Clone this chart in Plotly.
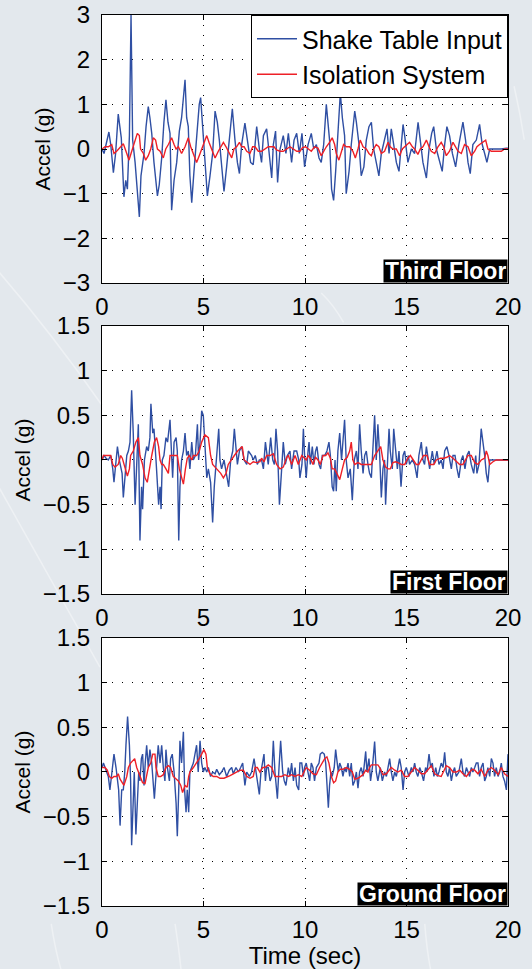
import plotly.graph_objects as go

# ---------------- data: (time s, accel g) vertices ----------------
third_input = [
    (0.00, 0.0), (0.10, -0.1), (0.34, 0.38), (0.43, 0.1), (0.56, -0.53), (0.67, -0.1), (0.80, 0.78),
    (0.89, 0.5), (0.95, 0.25), (1.08, -1.07), (1.17, -0.7), (1.25, -0.9), (1.35, 0.3), (1.43, 3.0),
    (1.51, 0.2), (1.63, -0.3), (1.71, -0.7), (1.84, -1.52), (1.92, -0.6), (1.99, -0.4), (2.07, -0.1),
    (2.17, 0.5), (2.28, 0.95), (2.36, 0.7), (2.45, 0.35), (2.56, -0.3), (2.73, -1.05), (2.82, -0.8),
    (2.94, -0.2), (3.05, 0.6), (3.15, 1.1), (3.25, 0.6), (3.35, 0.35), (3.43, -1.37), (3.55, -0.7),
    (3.68, -0.3), (3.81, 0.4), (3.92, 0.7), (4.09, 1.55), (4.17, 0.7), (4.25, 0.5), (4.33, -0.6),
    (4.42, -1.2), (4.53, -0.5), (4.66, 0.3), (4.79, 1.0), (4.86, 1.15), (4.96, 0.4), (5.07, -0.4),
    (5.19, -1.05), (5.32, -0.6), (5.45, -0.1), (5.57, 0.85), (5.68, 0.6), (5.78, 0.2), (5.89, -0.4),
    (6.01, -0.95), (6.14, -0.4), (6.27, 0.2), (6.42, 0.9), (6.55, 0.2), (6.67, -0.3), (6.77, -0.55),
    (6.88, 0.1), (7.04, 0.58), (7.21, 0.1), (7.32, -0.3), (7.45, -0.35), (7.62, 0.5), (7.75, 0.0),
    (7.86, -0.3), (7.95, 0.3), (8.11, 0.45), (8.19, 0.1), (8.36, -0.65), (8.44, 0.1), (8.55, 0.4),
    (8.65, -0.75), (8.77, 0.0), (8.93, 0.3), (9.06, -0.1), (9.18, 0.35), (9.34, -0.3), (9.46, 0.2),
    (9.59, 0.35), (9.72, -0.1), (9.85, 0.35), (9.98, -0.4), (10.15, 0.1), (10.31, 0.35), (10.43, 0.0),
    (10.56, 0.1), (10.69, -0.2), (10.80, -0.3), (10.92, 0.1), (11.05, 1.0), (11.15, 0.5), (11.21, 0.2),
    (11.31, -0.9), (11.41, -1.15), (11.51, -0.5), (11.62, 0.3), (11.74, 1.25), (11.84, 0.7), (11.95, 0.3),
    (12.03, -1.0), (12.17, -0.5), (12.28, 0.1), (12.45, 0.85), (12.53, 0.6), (12.66, 0.1), (12.77, -0.6),
    (12.90, -0.4), (13.02, 0.2), (13.15, 0.5), (13.27, 0.6), (13.38, 0.0), (13.51, -0.3), (13.64, -0.6),
    (13.76, -0.1), (13.92, 0.2), (14.04, 0.45), (14.14, -0.1), (14.25, 0.45), (14.37, 0.1), (14.50, -0.3),
    (14.63, -0.5), (14.83, 0.55), (14.91, 0.3), (15.07, -0.3), (15.24, 0.0), (15.40, -0.1), (15.57, 0.6),
    (15.68, 0.2), (15.81, -0.3), (15.98, -0.65), (16.11, 0.0), (16.24, 0.35), (16.34, 0.5), (16.47, 0.0),
    (16.60, -0.2), (16.76, -0.5), (16.88, 0.1), (16.99, 0.5), (17.12, 0.3), (17.26, -0.1), (17.42, -0.4),
    (17.58, 0.1), (17.78, 0.6), (17.91, 0.2), (18.03, -0.3), (18.14, -0.55), (18.27, 0.1), (18.44, 0.2),
    (18.60, 0.55), (18.73, 0.1), (18.85, -0.1), (18.96, -0.3), (19.10, 0.0), (19.34, 0.0), (19.67, 0.0),
    (19.92, 0.02), (20.0, 0.02),
]
third_iso = [
    (0.00, 0.0), (0.15, 0.05), (0.31, 0.05), (0.48, 0.1), (0.59, -0.1), (0.72, -0.05), (0.92, 0.05),
    (1.05, 0.12), (1.22, -0.1), (1.33, -0.25), (1.43, -0.1), (1.54, 0.05), (1.66, 0.2), (1.74, 0.35),
    (1.84, 0.3), (1.90, 0.0), (2.04, -0.1), (2.15, -0.25), (2.28, -0.15), (2.40, 0.0), (2.53, 0.25),
    (2.64, 0.2), (2.73, 0.0), (2.86, -0.05), (3.02, -0.2), (3.14, 0.0), (3.27, 0.1), (3.43, 0.25),
    (3.55, 0.1), (3.65, 0.0), (3.76, 0.05), (3.92, -0.1), (4.09, 0.05), (4.25, 0.25), (4.37, 0.05),
    (4.50, -0.1), (4.66, -0.3), (4.79, -0.15), (4.91, 0.0), (5.04, 0.15), (5.16, 0.3), (5.27, 0.15),
    (5.40, 0.0), (5.57, -0.2), (5.73, -0.05), (5.85, 0.05), (5.98, 0.15), (6.11, 0.05), (6.22, -0.05),
    (6.39, -0.2), (6.50, 0.0), (6.63, 0.05), (6.77, 0.15), (6.88, 0.05), (7.00, 0.05), (7.13, -0.05),
    (7.29, -0.1), (7.42, 0.05), (7.54, 0.05), (7.70, -0.05), (7.86, -0.05), (8.03, 0.0), (8.19, 0.05),
    (8.36, 0.05), (8.47, 0.05), (8.60, -0.02), (8.77, -0.05), (8.93, -0.05), (9.10, 0.0), (9.26, 0.05),
    (9.43, 0.0), (9.59, -0.05), (9.75, -0.05), (9.88, 0.03), (10.03, 0.05), (10.20, 0.0), (10.31, -0.05),
    (10.47, 0.05), (10.64, 0.02), (10.80, -0.15), (10.92, -0.05), (11.05, 0.05), (11.21, 0.15),
    (11.34, 0.25), (11.46, 0.1), (11.54, -0.1), (11.67, -0.25), (11.79, -0.05), (11.90, 0.1),
    (12.03, 0.05), (12.20, 0.05), (12.36, -0.05), (12.48, -0.2), (12.61, 0.0), (12.72, 0.2),
    (12.86, 0.05), (13.02, 0.0), (13.15, -0.1), (13.27, -0.15), (13.38, 0.0), (13.51, 0.1),
    (13.64, 0.05), (13.76, -0.1), (13.92, -0.05), (14.09, 0.15), (14.20, 0.05), (14.33, 0.0),
    (14.50, 0.0), (14.66, -0.15), (14.79, 0.0), (14.91, 0.05), (15.02, 0.1), (15.15, 0.15),
    (15.29, 0.05), (15.40, 0.0), (15.56, -0.12), (15.68, 0.0), (15.81, 0.05), (15.98, 0.2),
    (16.11, 0.05), (16.22, -0.05), (16.39, -0.1), (16.55, 0.05), (16.71, 0.15), (16.83, 0.05),
    (16.96, -0.15), (17.12, -0.05), (17.29, 0.15), (17.42, 0.05), (17.54, -0.05), (17.70, -0.1),
    (17.86, 0.1), (18.03, 0.05), (18.19, -0.15), (18.36, -0.05), (18.47, 0.05), (18.60, 0.1),
    (18.77, 0.15), (18.90, 0.2), (19.01, 0.0), (19.18, -0.05), (19.42, -0.05), (19.67, -0.05),
    (19.83, 0.0), (20.0, 0.0),
]
first_input = [
    (0.00, 0.0), (0.10, 0.05), (0.20, 0.02), (0.31, 0.0), (0.43, 0.05), (0.53, -0.1), (0.59, -0.25),
    (0.69, 0.05), (0.76, 0.15), (0.85, 0.0), (0.92, -0.1), (0.99, -0.15), (1.05, -0.42), (1.13, -0.2),
    (1.22, 0.05), (1.30, 0.1), (1.38, 0.2), (1.46, 0.78), (1.54, 0.3), (1.63, -0.5), (1.71, 0.0),
    (1.79, 0.4), (1.87, -0.9), (1.95, -0.3), (2.00, -0.55), (2.09, 0.0), (2.20, 0.15), (2.28, 0.1),
    (2.36, 0.25), (2.41, 0.63), (2.50, 0.3), (2.56, 0.35), (2.66, 0.0), (2.73, -0.25), (2.79, -0.5),
    (2.86, -0.3), (2.91, -0.55), (2.97, 0.0), (3.05, 0.05), (3.15, 0.25), (3.23, 0.2), (3.35, 0.45),
    (3.42, 0.15), (3.48, -0.2), (3.55, 0.2), (3.65, 0.25), (3.71, 0.1), (3.78, -0.9), (3.84, -0.3),
    (3.92, 0.0), (4.01, 0.1), (4.09, 0.3), (4.17, 0.05), (4.25, 0.1), (4.33, -0.1), (4.42, 0.2),
    (4.50, 0.0), (4.60, 0.05), (4.70, 0.4), (4.76, 0.0), (4.83, 0.2), (4.91, 0.55), (4.99, 0.5),
    (5.09, 0.0), (5.16, -0.2), (5.24, -0.1), (5.35, -0.25), (5.45, -0.7), (5.53, -0.3), (5.65, 0.05),
    (5.75, 0.35), (5.81, 0.0), (5.89, -0.1), (6.01, 0.0), (6.14, -0.15), (6.24, -0.3), (6.34, 0.0),
    (6.44, 0.1), (6.52, 0.35), (6.60, 0.1), (6.67, -0.05), (6.77, 0.1), (6.88, 0.15), (7.00, 0.0),
    (7.13, -0.05), (7.21, 0.1), (7.37, 0.05), (7.45, 0.0), (7.55, 0.05), (7.65, -0.05), (7.75, 0.0),
    (7.86, 0.0), (7.95, -0.1), (8.05, 0.2), (8.11, 0.1), (8.19, -0.05), (8.31, 0.25), (8.41, 0.0),
    (8.49, -0.05), (8.57, 0.35), (8.65, 0.1), (8.74, -0.5), (8.85, -0.1), (8.93, 0.2), (9.03, -0.05),
    (9.13, 0.05), (9.26, 0.1), (9.34, -0.1), (9.46, 0.1), (9.59, 0.1), (9.69, 0.0), (9.75, -0.2),
    (9.85, -0.05), (9.92, 0.35), (9.98, 0.05), (10.06, -0.2), (10.15, 0.1), (10.20, 0.2), (10.26, -0.05),
    (10.36, 0.15), (10.44, -0.05), (10.52, 0.1), (10.59, 0.15), (10.69, -0.05), (10.77, -0.1),
    (10.85, 0.05), (10.97, 0.05), (11.08, 0.1), (11.18, 0.2), (11.25, 0.05), (11.34, -0.3),
    (11.41, -0.35), (11.48, 0.0), (11.54, -0.35), (11.62, 0.1), (11.71, 0.3), (11.80, 0.0),
    (11.87, 0.25), (11.95, 0.45), (12.03, 0.0), (12.12, -0.2), (12.23, -0.1), (12.33, -0.45),
    (12.43, 0.0), (12.53, 0.1), (12.61, -0.1), (12.69, 0.4), (12.77, 0.1), (12.86, -0.15),
    (12.94, 0.05), (13.02, 0.1), (13.10, -0.05), (13.18, -0.15), (13.27, -0.2), (13.35, 0.15),
    (13.43, 0.5), (13.51, 0.0), (13.59, 0.4), (13.68, 0.05), (13.76, -0.42), (13.84, -0.1),
    (13.92, 0.0), (13.97, -0.5), (14.05, -0.1), (14.14, 0.35), (14.20, 0.1), (14.30, -0.1),
    (14.37, 0.35), (14.46, 0.1), (14.55, -0.1), (14.63, 0.1), (14.73, -0.3), (14.83, 0.05),
    (14.91, 0.1), (14.99, -0.05), (15.09, 0.05), (15.15, -0.05), (15.29, 0.0), (15.40, -0.05),
    (15.52, -0.2), (15.61, 0.05), (15.73, 0.2), (15.81, 0.0), (15.89, -0.05), (15.98, 0.15),
    (16.06, 0.0), (16.14, -0.1), (16.27, 0.1), (16.37, -0.05), (16.50, 0.1), (16.60, -0.05),
    (16.71, 0.0), (16.80, -0.1), (16.88, 0.1), (16.99, 0.15), (17.09, 0.05), (17.21, -0.1),
    (17.29, 0.05), (17.39, 0.05), (17.49, -0.1), (17.58, -0.2), (17.70, 0.0), (17.78, 0.05),
    (17.88, -0.1), (17.98, 0.05), (18.08, 0.1), (18.19, -0.05), (18.31, -0.15), (18.41, 0.05),
    (18.47, -0.15), (18.57, -0.05), (18.68, 0.35), (18.77, 0.2), (18.85, 0.05), (18.93, -0.15),
    (19.01, -0.25), (19.10, 0.0), (19.26, 0.0), (19.59, 0.0), (20.0, 0.0),
]
first_iso = [
    (0.00, 0.0), (0.07, 0.05), (0.23, 0.05), (0.43, 0.05), (0.53, -0.05), (0.64, -0.08), (0.80, -0.05),
    (0.92, 0.05), (1.00, 0.02), (1.13, -0.1), (1.25, -0.18), (1.35, -0.1), (1.41, 0.05), (1.54, 0.1),
    (1.67, 0.2), (1.79, 0.25), (1.87, 0.05), (2.00, -0.05), (2.12, -0.2), (2.23, -0.25), (2.33, -0.1),
    (2.45, 0.05), (2.58, 0.2), (2.69, 0.25), (2.79, 0.15), (2.86, 0.0), (2.94, -0.05), (3.02, -0.05),
    (3.15, -0.1), (3.27, -0.15), (3.35, 0.05), (3.51, 0.05), (3.71, 0.05), (3.81, -0.1), (3.92, -0.2),
    (4.01, -0.27), (4.11, -0.1), (4.20, 0.02), (4.30, 0.05), (4.42, 0.0), (4.50, 0.05), (4.66, 0.05),
    (4.79, 0.1), (4.91, 0.2), (5.07, 0.28), (5.24, 0.25), (5.35, 0.05), (5.45, -0.05), (5.57, -0.08),
    (5.73, -0.12), (5.85, -0.15), (5.98, -0.2), (6.11, -0.15), (6.22, -0.05), (6.39, 0.0), (6.52, 0.05),
    (6.68, 0.1), (6.80, 0.13), (6.91, 0.15), (7.00, 0.0), (7.13, -0.02), (7.29, -0.05), (7.45, -0.02),
    (7.62, -0.03), (7.78, -0.02), (7.86, 0.02), (7.98, -0.02), (8.11, 0.05), (8.28, 0.05), (8.44, 0.07),
    (8.60, -0.05), (8.77, -0.1), (8.93, -0.08), (9.10, 0.03), (9.18, 0.05), (9.34, -0.05), (9.51, 0.05),
    (9.67, -0.05), (9.84, 0.05), (10.06, 0.0), (10.15, 0.05), (10.26, 0.02), (10.39, -0.05),
    (10.52, 0.03), (10.64, 0.0), (10.75, -0.05), (10.89, 0.05), (11.02, 0.05), (11.13, 0.08),
    (11.25, 0.02), (11.34, -0.1), (11.46, -0.1), (11.57, -0.15), (11.71, -0.22), (11.84, -0.1),
    (11.95, 0.0), (12.08, 0.03), (12.20, 0.1), (12.28, 0.2), (12.36, 0.0), (12.45, -0.05),
    (12.61, -0.03), (12.77, -0.05), (12.94, -0.05), (13.10, -0.05), (13.27, -0.05), (13.43, 0.05),
    (13.59, 0.1), (13.73, 0.15), (13.84, 0.0), (13.97, -0.08), (14.09, -0.1), (14.20, -0.1),
    (14.33, -0.03), (14.46, -0.02), (14.58, -0.03), (14.74, -0.05), (14.91, -0.05), (15.07, 0.02),
    (15.19, 0.05), (15.32, 0.0), (15.48, -0.05), (15.61, -0.05), (15.73, 0.0), (15.84, 0.05),
    (16.01, 0.05), (16.14, -0.05), (16.34, -0.05), (16.47, 0.0), (16.67, 0.02), (16.83, 0.02),
    (16.99, 0.03), (17.12, 0.05), (17.29, 0.02), (17.45, -0.02), (17.62, -0.05), (17.78, -0.05),
    (17.91, 0.0), (18.03, 0.05), (18.19, 0.05), (18.36, -0.03), (18.52, -0.05), (18.68, 0.0),
    (18.85, 0.02), (18.93, 0.1), (19.01, 0.05), (19.10, -0.05), (19.26, -0.02), (19.42, 0.0),
    (20.0, 0.0),
]
ground_input = [
    (0.00, 0.05), (0.07, 0.1), (0.15, 0.05), (0.23, 0.0), (0.31, -0.05), (0.39, -0.2), (0.49, 0.0),
    (0.59, 0.2), (0.69, 0.05), (0.76, -0.1), (0.82, -0.2), (0.89, -0.6), (0.97, -0.2), (1.05, -0.2),
    (1.12, 0.0), (1.18, 0.3), (1.26, 0.62), (1.35, 0.3), (1.41, -0.1), (1.46, -0.82), (1.54, -0.4),
    (1.59, 0.0), (1.67, -0.7), (1.74, -0.3), (1.81, 0.0), (1.87, -0.1), (1.94, 0.15), (2.00, 0.2),
    (2.07, -0.15), (2.13, 0.1), (2.20, 0.3), (2.28, 0.05), (2.36, 0.25), (2.45, 0.1), (2.53, -0.2),
    (2.58, -0.3), (2.64, -0.1), (2.73, 0.2), (2.77, 0.3), (2.86, 0.1), (2.94, 0.3), (3.02, 0.05),
    (3.10, -0.1), (3.15, 0.25), (3.22, 0.05), (3.32, -0.1), (3.38, 0.15), (3.46, 0.2), (3.55, 0.0),
    (3.65, -0.35), (3.71, -0.72), (3.78, -0.2), (3.84, 0.35), (3.92, 0.1), (4.01, 0.45), (4.07, -0.2),
    (4.14, -0.45), (4.20, -0.2), (4.27, -0.45), (4.33, 0.0), (4.42, 0.05), (4.50, 0.1), (4.58, 0.2),
    (4.66, 0.3), (4.74, 0.0), (4.83, 0.35), (4.91, 0.1), (4.99, 0.0), (5.07, 0.05), (5.16, 0.0),
    (5.24, 0.05), (5.35, -0.05), (5.45, 0.0), (5.57, -0.02), (5.65, 0.03), (5.78, -0.03), (5.89, 0.0),
    (6.01, 0.05), (6.14, -0.05), (6.27, 0.02), (6.39, 0.05), (6.47, -0.02), (6.60, 0.05), (6.72, 0.0),
    (6.83, 0.05), (6.93, 0.1), (7.04, -0.15), (7.13, 0.0), (7.26, -0.05), (7.37, 0.0), (7.49, 0.15),
    (7.59, 0.0), (7.68, -0.1), (7.75, -0.25), (7.83, 0.0), (7.91, 0.1), (7.98, 0.2), (8.05, -0.1),
    (8.11, 0.05), (8.19, 0.05), (8.28, -0.1), (8.36, -0.05), (8.44, 0.35), (8.52, 0.0), (8.57, -0.1),
    (8.64, -0.3), (8.72, 0.05), (8.80, 0.35), (8.90, 0.0), (8.98, -0.1), (9.06, -0.15), (9.18, 0.05),
    (9.26, -0.05), (9.34, 0.1), (9.43, -0.1), (9.51, 0.05), (9.59, -0.15), (9.69, -0.2), (9.75, 0.1),
    (9.84, 0.1), (9.92, -0.05), (9.98, 0.05), (10.06, 0.1), (10.15, 0.0), (10.23, -0.1), (10.31, 0.1),
    (10.39, 0.05), (10.47, -0.1), (10.56, 0.05), (10.69, 0.1), (10.75, 0.2), (10.85, 0.22),
    (10.95, 0.2), (11.02, 0.1), (11.08, -0.2), (11.15, -0.4), (11.21, -0.15), (11.28, 0.0),
    (11.34, -0.05), (11.44, 0.05), (11.51, 0.25), (11.57, 0.1), (11.64, 0.0), (11.71, 0.1),
    (11.79, 0.05), (11.87, -0.05), (11.95, 0.05), (12.03, 0.0), (12.12, 0.1), (12.20, -0.05),
    (12.28, 0.1), (12.36, -0.15), (12.45, -0.1), (12.53, 0.0), (12.61, -0.18), (12.69, 0.0),
    (12.77, 0.05), (12.86, -0.05), (12.99, 0.23), (13.05, 0.0), (13.15, 0.15), (13.23, -0.1),
    (13.32, 0.05), (13.43, 0.34), (13.51, 0.0), (13.59, -0.1), (13.71, 0.05), (13.81, -0.1),
    (13.92, 0.0), (14.01, -0.05), (14.09, 0.05), (14.17, 0.15), (14.25, 0.0), (14.33, -0.1),
    (14.42, 0.0), (14.50, -0.05), (14.58, 0.05), (14.66, 0.15), (14.74, 0.05), (14.83, -0.2),
    (14.91, 0.0), (14.99, 0.05), (15.12, -0.05), (15.24, 0.05), (15.32, 0.0), (15.40, 0.1),
    (15.48, 0.0), (15.56, -0.05), (15.65, 0.05), (15.73, 0.0), (15.84, -0.1), (15.94, 0.05),
    (16.01, 0.0), (16.11, 0.2), (16.19, 0.05), (16.27, 0.1), (16.35, -0.05), (16.44, 0.05),
    (16.52, -0.05), (16.60, 0.0), (16.71, 0.1), (16.80, 0.05), (16.88, 0.22), (16.96, 0.0),
    (17.04, -0.05), (17.12, 0.05), (17.21, -0.1), (17.29, 0.0), (17.37, 0.05), (17.45, -0.05),
    (17.58, 0.0), (17.70, 0.15), (17.78, 0.0), (17.86, -0.05), (17.95, 0.05), (18.03, 0.0),
    (18.11, -0.05), (18.19, 0.05), (18.27, 0.0), (18.36, 0.05), (18.44, 0.1), (18.52, 0.1),
    (18.60, -0.05), (18.68, 0.05), (18.77, 0.1), (18.85, -0.1), (18.93, -0.05), (19.01, 0.05),
    (19.10, -0.05), (19.18, 0.15), (19.26, 0.1), (19.34, -0.05), (19.42, 0.05), (19.51, -0.05),
    (19.59, 0.0), (19.67, 0.1), (19.75, -0.05), (19.83, -0.1), (19.92, -0.2), (20.0, 0.2),
]
ground_iso = [
    (0.00, 0.05), (0.15, 0.05), (0.26, 0.02), (0.36, -0.05), (0.48, -0.07), (0.59, -0.05), (0.72, -0.05),
    (0.80, -0.02), (0.89, -0.08), (0.99, -0.12), (1.08, -0.15), (1.22, -0.05), (1.30, 0.05), (1.41, 0.1),
    (1.51, 0.13), (1.61, 0.15), (1.71, 0.05), (1.79, 0.0), (1.87, -0.05), (2.00, -0.12), (2.12, -0.13),
    (2.20, -0.05), (2.28, 0.05), (2.40, 0.1), (2.50, 0.2), (2.61, 0.2), (2.66, 0.05), (2.77, -0.05),
    (2.89, -0.05), (3.02, -0.03), (3.15, 0.05), (3.27, 0.07), (3.38, 0.05), (3.51, -0.05), (3.65, -0.08),
    (3.76, -0.1), (3.88, -0.15), (3.97, -0.23), (4.09, -0.15), (4.20, -0.17), (4.27, -0.05), (4.33, 0.0),
    (4.50, 0.05), (4.66, 0.1), (4.79, 0.15), (4.91, 0.2), (5.02, 0.25), (5.12, 0.2), (5.19, 0.05),
    (5.32, -0.02), (5.48, -0.05), (5.65, -0.05), (5.81, -0.07), (6.01, -0.07), (6.14, -0.06),
    (6.31, -0.04), (6.47, -0.02), (6.63, 0.0), (6.80, 0.02), (6.96, 0.02), (7.13, -0.05), (7.29, -0.07),
    (7.45, -0.05), (7.54, 0.05), (7.65, 0.05), (7.78, 0.0), (7.91, 0.05), (8.03, 0.05), (8.19, 0.08),
    (8.36, 0.05), (8.52, -0.05), (8.69, -0.05), (8.85, -0.05), (9.01, -0.03), (9.18, -0.05),
    (9.34, -0.03), (9.51, -0.05), (9.67, -0.03), (9.84, -0.05), (10.06, 0.05), (10.23, 0.02),
    (10.39, -0.02), (10.56, -0.03), (10.72, 0.05), (10.85, 0.1), (10.97, 0.15), (11.08, 0.17),
    (11.18, 0.1), (11.30, -0.05), (11.41, -0.12), (11.51, -0.1), (11.62, 0.0), (11.74, 0.03),
    (11.87, 0.03), (12.03, 0.05), (12.20, 0.03), (12.33, 0.0), (12.45, -0.08), (12.61, -0.07),
    (12.77, -0.05), (12.86, -0.03), (12.99, 0.02), (13.10, 0.0), (13.18, 0.05), (13.27, 0.08),
    (13.43, 0.08), (13.59, 0.08), (13.68, 0.05), (13.84, -0.03), (14.01, -0.02), (14.14, 0.02),
    (14.25, 0.05), (14.42, 0.02), (14.58, 0.0), (14.74, 0.02), (14.91, -0.05), (15.07, -0.05),
    (15.24, 0.0), (15.40, 0.05), (15.56, 0.02), (15.73, -0.02), (15.89, -0.02), (16.06, 0.03),
    (16.22, 0.07), (16.39, -0.02), (16.55, -0.04), (16.71, -0.05), (16.83, 0.0), (16.96, 0.07),
    (17.12, 0.05), (17.29, 0.0), (17.45, 0.0), (17.62, 0.02), (17.78, -0.02), (17.95, -0.05),
    (18.11, 0.0), (18.24, 0.03), (18.36, 0.02), (18.52, -0.02), (18.68, 0.03), (18.85, -0.05),
    (19.01, 0.02), (19.18, 0.05), (19.34, 0.02), (19.51, -0.03), (19.67, 0.05), (19.83, -0.02),
    (20.0, -0.05),
]

floor_names = ["Third Floor", "First Floor", "Ground Floor"]
series_names = ["Shake Table Input", "Isolation System"]
y_ranges = [(-3, 3), (-1.5, 1.5), (-1.5, 1.5)]
y_dticks = [1, 0.5, 0.5]
x_ticks = [0, 5, 10, 15, 20]

panels = [(third_input, third_iso), (first_input, first_iso), (ground_input, ground_iso)]

# ---------------- styling ----------------
BG = "#e3e8ed"
BLUE = "#2f4fa3"
RED = "#ee2027"
FONT = "Liberation Sans, Arial, Helvetica, sans-serif"
domains = [(0.6992, 1.0), (0.3502, 0.6510), (0.0, 0.3008)]

fig = go.Figure()
for i, (inp, iso) in enumerate(panels):
    xa = "x" if i == 0 else f"x{i+1}"
    ya = "y" if i == 0 else f"y{i+1}"
    for data, name, color in ((inp, series_names[0], BLUE), (iso, series_names[1], RED)):
        fig.add_trace(go.Scatter(
            x=[p[0] for p in data], y=[p[1] for p in data], mode="lines", name=name,
            line=dict(color=color, width=1.4), showlegend=(i == 0),
            xaxis=xa, yaxis=ya, hoverinfo="skip",
        ))

axis_common = dict(
    showline=True, linecolor="black", linewidth=1, mirror="ticks",
    ticks="inside", ticklen=5, tickcolor="black", tickwidth=1,
    showgrid=True, gridcolor="black", gridwidth=1, griddash="1px,9px",
    zeroline=False, automargin=False,
    tickfont=dict(family=FONT, size=24, color="black"),
)

layout = dict(
    width=532, height=969,
    margin=dict(l=102, r=24, t=15, b=63, autoexpand=False),
    paper_bgcolor=BG, plot_bgcolor="white",
    font=dict(family=FONT, color="black"),
    legend=dict(x=1, y=1, xanchor="right", yanchor="top", bgcolor="white",
                bordercolor="black", borderwidth=1, font=dict(family=FONT, size=25),
                tracegroupgap=0, itemwidth=40),
)
for i in range(3):
    xk = "xaxis" if i == 0 else f"xaxis{i+1}"
    yk = "yaxis" if i == 0 else f"yaxis{i+1}"
    xa_dict = dict(axis_common, range=[0, 20], tickvals=x_ticks, ticklabelstandoff=2,
                   anchor="y" if i == 0 else f"y{i+1}")
    if i > 0:
        xa_dict["matches"] = "x"
    if i == 2:
        xa_dict["title"] = dict(text="Time (sec)", font=dict(family=FONT, size=24), standoff=0)
    layout[xk] = xa_dict
    lo, hi = y_ranges[i]
    layout[yk] = dict(axis_common, range=[lo, hi], dtick=y_dticks[i], tick0=0,
                      domain=list(domains[i]), ticklabelstandoff=6,
                      anchor="x" if i == 0 else f"x{i+1}",
                      title=dict(text="Accel (g)", font=dict(family=FONT, size=21), standoff=6))
fig.update_layout(**layout)

# floor labels
for i, name in enumerate(floor_names):
    sfx = "" if i == 0 else str(i + 1)
    fig.add_annotation(
        text=f"<b>{name}</b>", x=1, y=0, xref=f"x{sfx} domain", yref=f"y{sfx} domain",
        xanchor="right", yanchor="bottom", showarrow=False, bgcolor="black",
        font=dict(family=FONT, size=23, color="white"), borderpad=1, height=20,
    )

# faint decorative arcs in the background
arc_paths = [
    "M -0.27,0.72 Q -0.13,0.647 0,0.562",
    "M -0.26,0.475 Q -0.14,0.377 -0.005,0.268",
    "M -0.125,-0.02 Q -0.115,-0.05 -0.10,-0.073",
    "M 0.18,-0.02 Q 0.19,-0.05 0.195,-0.073",
    "M 0.795,-0.02 Q 0.80,-0.05 0.81,-0.073",
    "M 0.54,0.688 Q 0.57,0.675 0.595,0.655",
    "M 1.015,0.92 Q 1.03,0.89 1.04,0.86",
]
for p in arc_paths:
    fig.add_shape(type="path", path=p, xref="paper", yref="paper", layer="below",
                  line=dict(color="#eef1f4", width=1.5))

fig.write_html(
    "out.html",
    config={"displayModeBar": False},
    post_script="document.body.style.margin='0';document.body.style.overflow='hidden';"
                "document.body.style.background='" + BG + "';",
)
